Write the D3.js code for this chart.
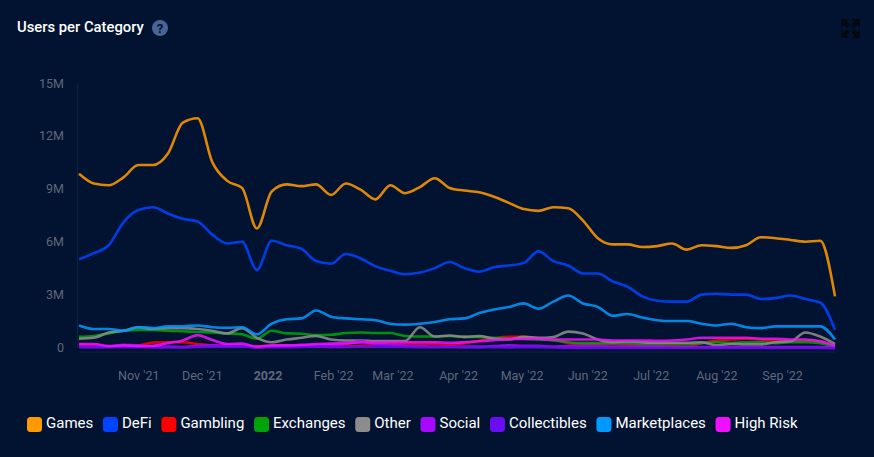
<!DOCTYPE html>
<html>
<head>
<meta charset="utf-8">
<script src="https://cdn.jsdelivr.net/npm/d3@7"></script>
<style>
html, body { margin: 0; padding: 0; background: #011330; }
text { font-family: Roboto, sans-serif; }
</style>
</head>
<body>
<div id="chart"></div>
<script>
var names = ["Games", "DeFi", "Gambling", "Exchanges", "Other", "Social", "Collectibles", "Marketplaces", "High Risk"];
var colores = ["#ff9900", "#0044ff", "#ff0000", "#00a30a", "#8c8c8c", "#a50aff", "#6a0df0", "#0099ff", "#f010ff"];

// weekly, values in millions
var games = [9.85,9.3,9.2,9.65,10.35,10.35,11.0,12.75,13.0,10.5,9.45,9.05,6.75,8.85,9.25,9.15,9.25,8.65,9.3,8.95,8.4,9.2,8.75,9.1,9.6,9.05,8.9,8.8,8.55,8.2,7.85,7.75,7.95,7.9,7.2,6.2,5.85,5.85,5.7,5.75,5.9,5.55,5.8,5.75,5.65,5.8,6.25,6.2,6.1,6.0,6.05,2.9];
var defi = [5.0,5.35,5.8,7.1,7.8,7.95,7.6,7.3,7.15,6.4,5.9,6.0,4.4,6.05,5.8,5.6,4.9,4.75,5.3,5.05,4.6,4.35,4.15,4.25,4.5,4.85,4.5,4.3,4.55,4.65,4.8,5.45,4.9,4.65,4.2,4.2,3.75,3.45,2.9,2.65,2.6,2.6,3.0,3.05,3.0,3.0,2.75,2.8,2.95,2.75,2.55,1.0];
var gambling = [0.15,0.1,0.07,0.08,0.12,0.28,0.3,0.3,0.2,0.12,0.1,0.1,0.05,0.1,0.12,0.1,0.08,0.03,0.07,0.1,0.15,0.22,0.22,0.2,0.22,0.15,0.25,0.38,0.52,0.6,0.6,0.5,0.45,0.25,0.2,0.2,0.22,0.15,0.1,0.1,0.08,0.05,0.25,0.4,0.45,0.5,0.45,0.4,0.4,0.4,0.35,0.1];
var exchanges = [0.6,0.65,0.8,0.95,1.0,1.0,0.95,0.92,0.88,0.85,0.8,0.75,0.5,0.95,0.8,0.78,0.7,0.72,0.82,0.85,0.82,0.82,0.65,0.62,0.62,0.65,0.6,0.6,0.55,0.5,0.5,0.45,0.4,0.3,0.25,0.25,0.25,0.25,0.2,0.2,0.2,0.2,0.25,0.3,0.25,0.3,0.3,0.25,0.3,0.3,0.25,0.03];
var other = [0.5,0.55,0.85,0.95,1.15,1.05,1.1,1.1,1.05,0.95,0.8,1.1,0.55,0.3,0.45,0.55,0.65,0.45,0.4,0.4,0.37,0.37,0.37,1.15,0.62,0.68,0.6,0.65,0.5,0.45,0.6,0.55,0.6,0.9,0.8,0.45,0.3,0.35,0.3,0.27,0.27,0.27,0.3,0.12,0.2,0.18,0.18,0.3,0.35,0.85,0.62,0.2];
var social = [0.05,0.03,0.05,0.15,0.12,0.05,0.05,0.03,0.1,0.12,0.1,0.1,0.0,0.05,0.08,0.1,0.12,0.15,0.2,0.35,0.2,0.15,0.1,0.08,0.05,0.05,0.05,0.05,0.08,0.12,0.1,0.1,0.05,0.08,0.08,0.08,0.05,0.05,0.05,0.05,0.03,0.03,0.03,0.03,0.03,0.03,0.03,0.03,0.03,0.03,0.03,0.0];
var collectibles = [0.02,0.02,0.02,0.02,0.02,0.0,0.0,0.0,0.03,0.05,0.05,0.05,0.0,0.02,0.02,0.03,0.05,0.03,0.03,0.05,0.05,0.05,0.03,0.02,0.02,0.02,0.0,0.0,0.02,0.0,0.02,0.02,0.0,-0.02,-0.02,-0.02,-0.03,-0.03,-0.03,-0.03,-0.03,-0.03,-0.03,-0.03,-0.03,-0.03,-0.03,-0.03,-0.03,-0.03,-0.03,-0.05];
var marketplaces = [1.25,1.05,1.05,0.95,1.15,1.1,1.2,1.2,1.25,1.15,1.12,1.15,0.75,1.35,1.6,1.65,2.1,1.75,1.65,1.6,1.55,1.35,1.3,1.35,1.45,1.6,1.65,1.95,2.15,2.3,2.5,2.2,2.6,2.95,2.5,2.3,1.8,1.9,1.7,1.55,1.5,1.5,1.35,1.25,1.35,1.15,1.1,1.2,1.2,1.2,1.2,0.45];
var highRisk = [0.2,0.2,0.08,0.12,0.08,0.1,0.25,0.4,0.7,0.42,0.2,0.22,0.05,0.12,0.12,0.15,0.2,0.22,0.25,0.28,0.28,0.3,0.3,0.3,0.3,0.27,0.3,0.35,0.42,0.48,0.48,0.5,0.45,0.45,0.45,0.45,0.4,0.4,0.4,0.38,0.4,0.45,0.55,0.55,0.55,0.55,0.5,0.5,0.45,0.45,0.35,0.1];

var allSeries = [games, defi, gambling, exchanges, other, social, collectibles, marketplaces, highRisk];

var startDate = new Date(2021, 9, 4);
var xTicks = [new Date(2021,10,1), new Date(2021,11,1), new Date(2022,0,1), new Date(2022,1,1), new Date(2022,2,1), new Date(2022,3,1), new Date(2022,4,1), new Date(2022,5,1), new Date(2022,6,1), new Date(2022,7,1), new Date(2022,8,1)];
var xTickLabels = ["Nov '21", "Dec '21", "2022", "Feb '22", "Mar '22", "Apr '22", "May '22", "Jun '22", "Jul '22", "Aug '22", "Sep '22"];
var yTicks = [0, 3, 6, 9, 12, 15];
var yTickLabels = ["0", "3M", "6M", "9M", "12M", "15M"];

var dates = games.map(function(d, i) { return d3.timeDay.offset(startDate, i * 7); });

var width = 874, height = 457;
var svg = d3.select("#chart").append("svg")
	.attr("width", width)
	.attr("height", height)
	.style("display", "block");

var x = d3.scaleTime().domain([dates[0], dates[dates.length - 1]]).range([79, 835]);
var y = d3.scaleLinear().domain([0, 15]).range([347.5, 83]);

// title + help icon
svg.append("text").attr("x", 17).attr("y", 32)
	.attr("font-size", 14.8).attr("font-weight", 500).attr("fill", "#fff")
	.text("Users per Category");
svg.append("circle").attr("cx", 160).attr("cy", 28).attr("r", 8).attr("fill", "#4a6496");
svg.append("text").attr("x", 160).attr("y", 32.5).attr("text-anchor", "middle")
	.attr("font-size", 13).attr("font-weight", 700).attr("fill", "#011330").text("?");

// fullscreen icon
var icon = svg.append("g").attr("fill", "#000810");
[[841, 19, 1, 1], [860, 19, -1, 1], [841, 38, 1, -1], [860, 38, -1, -1]].forEach(function(c) {
	var p = d3.path();
	p.moveTo(c[0], c[1]);
	p.lineTo(c[0] + 8 * c[2], c[1]);
	p.lineTo(c[0] + 5.5 * c[2], c[1] + 2.5 * c[3]);
	p.lineTo(c[0] + 9 * c[2], c[1] + 6 * c[3]);
	p.lineTo(c[0] + 6 * c[2], c[1] + 9 * c[3]);
	p.lineTo(c[0] + 2.5 * c[2], c[1] + 5.5 * c[3]);
	p.lineTo(c[0], c[1] + 8 * c[3]);
	p.closePath();
	icon.append("path").attr("d", p.toString());
});

// axes
var yAxis = d3.axisLeft(y).tickValues(yTicks).tickSize(0).tickPadding(13)
	.tickFormat(function(d, i) { return yTickLabels[i]; });
var gy = svg.append("g").attr("transform", "translate(77,0)").call(yAxis);
gy.select(".domain").attr("stroke", "#101f3d").attr("stroke-width", 1.5);
gy.selectAll("text").attr("font-size", 12.5).attr("font-family", "Roboto, sans-serif").attr("fill", "#5f687c");

var xAxis = d3.axisBottom(x).tickValues(xTicks).tickSize(0).tickPadding(20)
	.tickFormat(function(d, i) { return xTickLabels[i]; });
var gx = svg.append("g").attr("transform", "translate(0,351.5)").call(xAxis);
gx.select(".domain").attr("stroke", "#101f3d").attr("stroke-width", 1);
gx.selectAll("text").attr("font-size", 12.5).attr("font-family", "Roboto, sans-serif").attr("fill", "#5f687c")
	.attr("font-weight", function(d, i) { return xTickLabels[i] == "2022" ? 700 : 400; });

// lines
var line = d3.line()
	.x(function(d, i) { return x(dates[i]); })
	.y(function(d) { return y(d); })
	.curve(d3.curveMonotoneX);

// marketplaces etc keep legend order, high risk ends on top
allSeries.forEach(function(s, k) {
	svg.append("path")
		.attr("d", line(s))
		.attr("fill", "none")
		.attr("stroke", colores[k])
		.attr("stroke-width", 2.6)
		.attr("stroke-opacity", 0.87)
		.attr("stroke-linejoin", "round");
});

// legend
var lx = 27;
names.forEach(function(n, k) {
	svg.append("rect").attr("x", lx).attr("y", 417).attr("width", 15).attr("height", 15)
		.attr("rx", 3.5).attr("fill", colores[k]);
	var t = svg.append("text").attr("x", lx + 19).attr("y", 428)
		.attr("font-size", 15).attr("fill", "#fff").text(n);
	lx += 19 + t.node().getComputedTextLength() + 9.7;
});
</script>
</body>
</html>
